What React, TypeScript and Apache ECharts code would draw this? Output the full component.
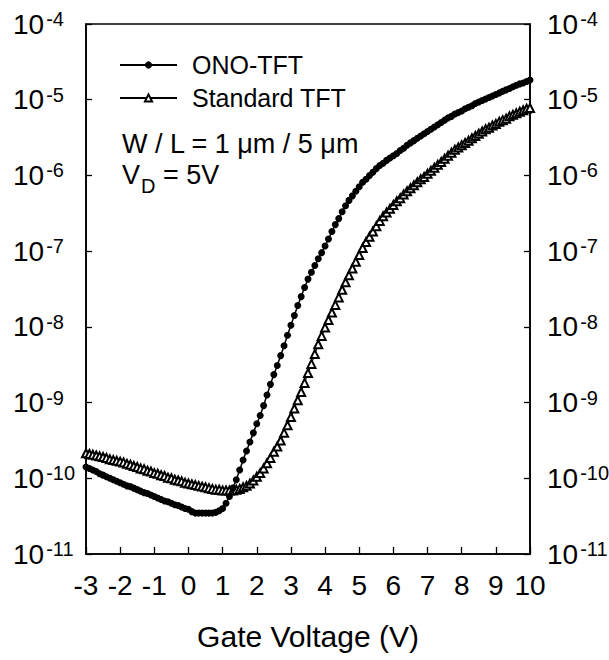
import React, { useEffect, useRef } from "react";
import * as echarts from "echarts";

// Gate voltage sweep (V)
const gateVoltage = [
  -3, -2.9, -2.8, -2.7, -2.6, -2.5, -2.4, -2.3, -2.2, -2.1,
  -2, -1.9, -1.8, -1.7, -1.6, -1.5, -1.4, -1.3, -1.2, -1.1,
  -1, -0.9, -0.8, -0.7, -0.6, -0.5, -0.4, -0.3, -0.2, -0.1,
  0, 0.1, 0.2, 0.3, 0.4, 0.5, 0.6, 0.7, 0.8, 0.9,
  1, 1.1, 1.2, 1.3, 1.4, 1.5, 1.6, 1.7, 1.8, 1.9,
  2, 2.1, 2.2, 2.3, 2.4, 2.5, 2.6, 2.7, 2.8, 2.9,
  3, 3.1, 3.2, 3.3, 3.4, 3.5, 3.6, 3.7, 3.8, 3.9,
  4, 4.1, 4.2, 4.3, 4.4, 4.5, 4.6, 4.7, 4.8, 4.9,
  5, 5.1, 5.2, 5.3, 5.4, 5.5, 5.6, 5.7, 5.8, 5.9,
  6, 6.1, 6.2, 6.3, 6.4, 6.5, 6.6, 6.7, 6.8, 6.9,
  7, 7.1, 7.2, 7.3, 7.4, 7.5, 7.6, 7.7, 7.8, 7.9,
  8, 8.1, 8.2, 8.3, 8.4, 8.5, 8.6, 8.7, 8.8, 8.9,
  9, 9.1, 9.2, 9.3, 9.4, 9.5, 9.6, 9.7, 9.8, 9.9,
  10,
];

// Drain current (A), ONO-TFT
const onoCurrent = [
  1.41e-10, 1.35e-10, 1.29e-10, 1.23e-10, 1.15e-10, 1.10e-10, 1.05e-10, 1.00e-10, 9.55e-11, 9.12e-11,
  8.71e-11, 8.32e-11, 7.94e-11, 7.76e-11, 7.41e-11, 7.08e-11, 6.76e-11, 6.46e-11, 6.31e-11, 6.03e-11,
  5.75e-11, 5.50e-11, 5.25e-11, 5.01e-11, 4.90e-11, 4.68e-11, 4.47e-11, 4.37e-11, 4.17e-11, 3.98e-11,
  3.89e-11, 3.63e-11, 3.47e-11, 3.47e-11, 3.47e-11, 3.47e-11, 3.47e-11, 3.47e-11, 3.55e-11, 3.72e-11,
  3.98e-11, 4.68e-11, 5.75e-11, 7.41e-11, 9.55e-11, 1.29e-10, 1.74e-10, 2.29e-10, 3.02e-10, 3.98e-10,
  5.25e-10, 6.76e-10, 9.12e-10, 1.26e-9, 1.74e-9, 2.34e-9, 3.09e-9, 4.17e-9, 5.62e-9, 7.76e-9,
  1.05e-8, 1.41e-8, 1.91e-8, 2.51e-8, 3.31e-8, 4.27e-8, 5.25e-8, 6.46e-8, 7.94e-8, 9.55e-8,
  1.17e-7, 1.45e-7, 1.82e-7, 2.24e-7, 2.69e-7, 3.31e-7, 3.98e-7, 4.68e-7, 5.37e-7, 6.17e-7,
  7.08e-7, 8.13e-7, 8.91e-7, 1.00e-6, 1.10e-6, 1.23e-6, 1.35e-6, 1.45e-6, 1.58e-6, 1.70e-6,
  1.82e-6, 1.95e-6, 2.14e-6, 2.29e-6, 2.51e-6, 2.69e-6, 2.88e-6, 3.09e-6, 3.31e-6, 3.55e-6,
  3.80e-6, 4.07e-6, 4.37e-6, 4.68e-6, 5.01e-6, 5.37e-6, 5.75e-6, 6.03e-6, 6.46e-6, 6.76e-6,
  7.08e-6, 7.59e-6, 7.94e-6, 8.32e-6, 8.91e-6, 9.33e-6, 9.77e-6, 1.02e-5, 1.07e-5, 1.12e-5,
  1.17e-5, 1.23e-5, 1.29e-5, 1.35e-5, 1.41e-5, 1.48e-5, 1.55e-5, 1.62e-5, 1.66e-5, 1.74e-5,
  1.82e-5,
];

// Drain current (A), Standard TFT
const standardCurrent = [
  2.14e-10, 2.09e-10, 2.04e-10, 2.00e-10, 1.95e-10, 1.91e-10, 1.86e-10, 1.78e-10, 1.74e-10, 1.70e-10,
  1.66e-10, 1.62e-10, 1.55e-10, 1.51e-10, 1.45e-10, 1.41e-10, 1.35e-10, 1.32e-10, 1.26e-10, 1.23e-10,
  1.17e-10, 1.15e-10, 1.10e-10, 1.07e-10, 1.02e-10, 1.00e-10, 9.55e-11, 9.33e-11, 9.12e-11, 8.71e-11,
  8.51e-11, 8.32e-11, 8.13e-11, 7.94e-11, 7.76e-11, 7.59e-11, 7.41e-11, 7.24e-11, 7.08e-11, 7.08e-11,
  6.92e-11, 6.92e-11, 6.92e-11, 6.92e-11, 7.08e-11, 7.24e-11, 7.59e-11, 7.94e-11, 8.51e-11, 9.33e-11,
  1.05e-10, 1.17e-10, 1.35e-10, 1.58e-10, 1.86e-10, 2.24e-10, 2.63e-10, 3.16e-10, 3.98e-10, 5.01e-10,
  6.46e-10, 8.32e-10, 1.07e-9, 1.38e-9, 1.82e-9, 2.45e-9, 3.24e-9, 4.37e-9, 5.89e-9, 7.59e-9,
  9.77e-9, 1.23e-8, 1.55e-8, 1.95e-8, 2.45e-8, 3.09e-8, 3.89e-8, 4.79e-8, 5.89e-8, 7.24e-8,
  8.91e-8, 1.10e-7, 1.32e-7, 1.55e-7, 1.82e-7, 2.14e-7, 2.51e-7, 2.88e-7, 3.24e-7, 3.63e-7,
  4.07e-7, 4.57e-7, 5.01e-7, 5.62e-7, 6.17e-7, 6.76e-7, 7.41e-7, 8.13e-7, 8.91e-7, 9.55e-7,
  1.05e-6, 1.15e-6, 1.26e-6, 1.38e-6, 1.51e-6, 1.66e-6, 1.82e-6, 2.00e-6, 2.19e-6, 2.34e-6,
  2.51e-6, 2.69e-6, 2.88e-6, 3.09e-6, 3.31e-6, 3.55e-6, 3.80e-6, 4.07e-6, 4.27e-6, 4.57e-6,
  4.79e-6, 5.13e-6, 5.37e-6, 5.62e-6, 6.03e-6, 6.31e-6, 6.61e-6, 6.92e-6, 7.24e-6, 7.59e-6,
  7.76e-6,
];

const seriesNames = ["ONO-TFT", "Standard TFT"];
const xMin = -3;
const xMax = 10;
const xStep = 1;
const yMin = 1e-11;
const yMax = 1e-4;
const xAxisTitle = "Gate Voltage (V)";
const noteRatio = "W / L = 1 \u03bcm / 5 \u03bcm";
const noteVd = ["V", "D", "= 5V"];

const FONT = "'Liberation Sans', Arial, Helvetica, sans-serif";

function expLabel(v: number) {
  const e = Math.round(Math.log10(v));
  return `{b|10}{s|${e}}`;
}

const labelRich = {
  b: { fontSize: 28, fontFamily: FONT, color: "#000", lineHeight: 30 },
  s: { fontSize: 20, fontFamily: FONT, color: "#000", lineHeight: 19, verticalAlign: "top", padding: [0, 0, 0, 2] },
};

function yAxisFor(position: "left" | "right", margin: number) {
  return {
    type: "log",
    logBase: 10,
    min: yMin,
    max: yMax,
    position,
    axisLine: { show: true, onZero: false, lineStyle: { color: "#000", width: 1.6 } },
    axisTick: { show: true, inside: true, length: 6, lineStyle: { color: "#000", width: 1.3 } },
    minorTick: { show: false },
    splitLine: { show: false },
    axisLabel: {
      formatter: expLabel,
      align: "left",
      margin,
      rich: labelRich,
    },
  };
}

export default function App() {
  const ref = useRef<HTMLDivElement>(null);

  useEffect(() => {
    if (!ref.current) return;
    const chart = echarts.init(ref.current, null, { renderer: "svg" });
    const option = {
      animation: false,
      backgroundColor: "#fff",
      grid: {
        left: 86,
        top: 24,
        width: 444,
        height: 530,
        outerBoundsMode: "none",
        containLabel: false,
        show: true,
        borderColor: "#000",
        borderWidth: 1.6,
        backgroundColor: "transparent",
      },
      legend: {
        orient: "vertical",
        left: 119,
        top: 51,
        padding: 0,
        itemWidth: 57,
        itemHeight: 9,
        itemGap: 5,
        data: seriesNames,
        textStyle: {
          fontSize: 25,
          fontFamily: FONT,
          color: "#000",
          lineHeight: 28,
          padding: [0, 0, 0, 10],
        },
      },
      xAxis: {
        type: "value",
        min: xMin,
        max: xMax,
        interval: xStep,
        axisLine: { onZero: false, lineStyle: { color: "#000", width: 1.6 } },
        axisTick: { inside: true, length: 7, lineStyle: { color: "#000", width: 1.3 } },
        splitLine: { show: false },
        axisLabel: { fontSize: 28, fontFamily: FONT, color: "#000", margin: 17 },
        name: xAxisTitle,
        nameLocation: "middle",
        nameGap: 67,
        nameTextStyle: { fontSize: 30, fontFamily: FONT, color: "#000" },
      },
      yAxis: [yAxisFor("left", 73), yAxisFor("right", 17)],
      graphic: [
        {
          type: "text",
          x: 122,
          y: 144,
          style: { text: noteRatio, fontSize: 27, fontFamily: FONT, fill: "#000", verticalAlign: "middle" },
        },
        {
          type: "text",
          x: 122,
          y: 175,
          style: { text: noteVd[0], fontSize: 27, fontFamily: FONT, fill: "#000", verticalAlign: "middle" },
        },
        {
          type: "text",
          x: 141,
          y: 186,
          style: { text: noteVd[1], fontSize: 20, fontFamily: FONT, fill: "#000", verticalAlign: "middle" },
        },
        {
          type: "text",
          x: 163,
          y: 175,
          style: { text: noteVd[2], fontSize: 27, fontFamily: FONT, fill: "#000", verticalAlign: "middle" },
        },
      ],
      series: [
        {
          name: seriesNames[0],
          type: "line",
          yAxisIndex: 0,
          data: gateVoltage.map((v, i) => [v, onoCurrent[i]]),
          symbol: "circle",
          symbolSize: 7,
          clip: false,
          itemStyle: { color: "#000" },
          lineStyle: { color: "#000", width: 1.5 },
          z: 3,
        },
        {
          name: seriesNames[1],
          type: "line",
          yAxisIndex: 0,
          data: gateVoltage.map((v, i) => [v, standardCurrent[i]]),
          symbol: "emptyTriangle",
          symbolSize: 8,
          clip: false,
          itemStyle: { color: "#000", borderColor: "#000", borderWidth: 1.2 },
          lineStyle: { color: "#000", width: 1.2 },
          z: 2,
        },
      ],
    };
    chart.setOption(option as any);
    return () => chart.dispose();
  }, []);

  return (
    <div
      ref={ref}
      style={{ position: "absolute", left: 0, top: 0, width: 609, height: 660, background: "#fff" }}
    />
  );
}
